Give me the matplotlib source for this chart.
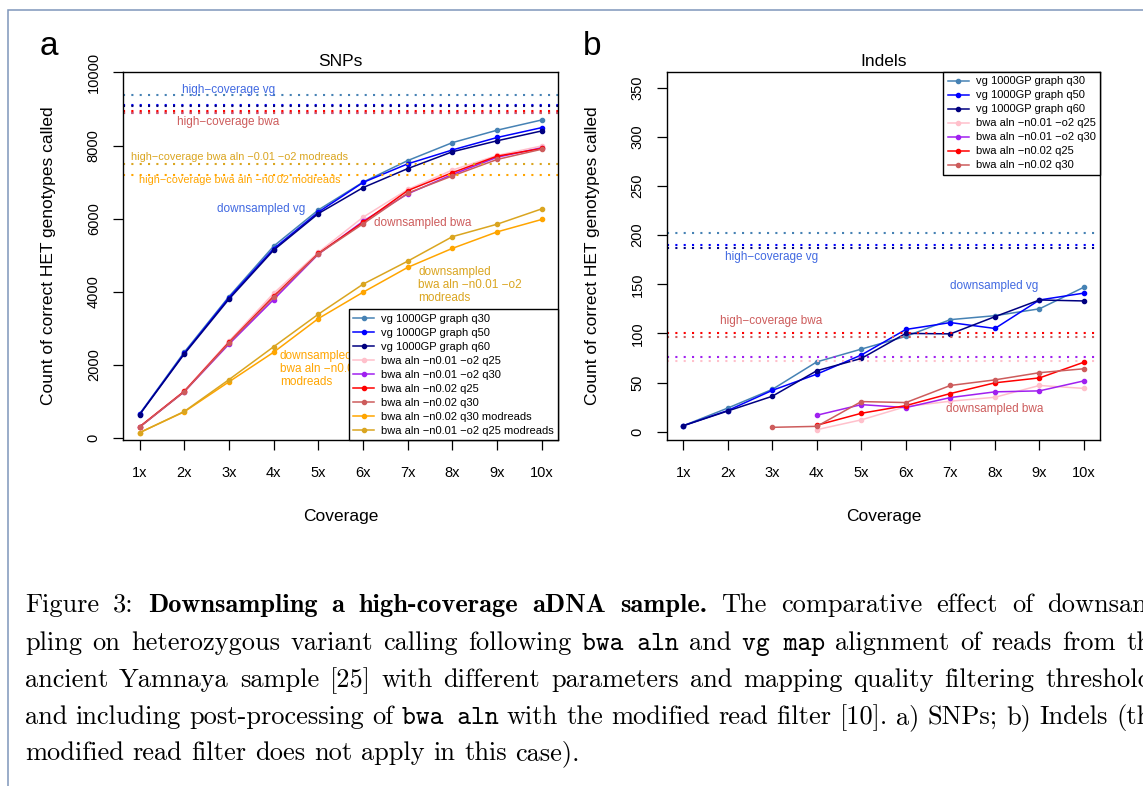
import numpy as np
import matplotlib.pyplot as plt
from matplotlib.patches import Rectangle

W, H = 1143, 786

coverage = np.arange(1, 11)
coverage_labels = ['1x', '2x', '3x', '4x', '5x', '6x', '7x', '8x', '9x', '10x']

# SNPs, downsampled
snp_vg_q30 = [660, 2350, 3870, 5250, 6240, 7000, 7590, 8080, 8420, 8700]
snp_vg_q50 = [650, 2320, 3840, 5180, 6180, 6990, 7500, 7880, 8220, 8490]
snp_vg_q60 = [640, 2300, 3800, 5140, 6140, 6850, 7370, 7830, 8130, 8400]
snp_o2_q25 = [310, 1290, 2650, 3960, 5080, 6040, 6800, 7330, 7730, 7990]
snp_o2_q30 = [300, 1270, 2570, 3790, 5030, 5930, 6680, 7210, 7680, 7940]
snp_n02_q25 = [310, 1280, 2620, 3880, 5050, 5900, 6770, 7260, 7710, 7920]
snp_n02_q30 = [300, 1270, 2600, 3850, 5040, 5860, 6700, 7170, 7620, 7900]
snp_mod_n02_q30 = [150, 720, 1540, 2350, 3270, 3990, 4670, 5190, 5640, 5980]
snp_mod_o2_q25 = [150, 730, 1600, 2500, 3390, 4210, 4840, 5510, 5850, 6270]
# SNPs, high coverage (same order as series)
snp_high = [9380, 9120, 9070, 8930, 8880, 8950, 8900, 7200, 7490]

# Indels, downsampled
nan = np.nan
ind_vg_q30 = [6, 24, 43, 71, 84, 97, 114, 118, 125, 147]
ind_vg_q50 = [6, 21.5, 42, 58.5, 78, 104, 111, 105, 134, 141]
ind_vg_q60 = [6, 21, 36, 62, 74.5, 100, 99.5, 117, 134, 133]
ind_o2_q25 = [nan, nan, nan, 2, 12, 25.5, 31, 35, 47, 44]
ind_o2_q30 = [nan, nan, nan, 16.7, 27.5, 24.5, 34.7, 40.5, 41.5, 51.7]
ind_n02_q25 = [nan, nan, nan, 6.5, 18.7, 26.5, 38.8, 49.7, 54.7, 70.7]
ind_n02_q30 = [nan, nan, 4.4, 5.4, 30.6, 29.6, 47, 52.7, 60, 64]
# Indels, high coverage
ind_high = [202, 190, 187, 72, 76, 100, 96]

M = '\u2212'
snp_labels = ['vg 1000GP graph q30', 'vg 1000GP graph q50', 'vg 1000GP graph q60',
              'bwa aln %sn0.01 %so2 q25' % (M, M), 'bwa aln %sn0.01 %so2 q30' % (M, M),
              'bwa aln %sn0.02 q25' % M, 'bwa aln %sn0.02 q30' % M,
              'bwa aln %sn0.02 q30 modreads' % M, 'bwa aln %sn0.01 %so2 q25 modreads' % (M, M)]
snp_colors = ['steelblue', 'blue', 'navy', 'pink', '#A020F0', 'red', 'indianred', 'orange', 'goldenrod']

plt.rcParams['font.family'] = ['Liberation Sans', 'DejaVu Sans']

fig = plt.figure(figsize=(W / 100, H / 100), dpi=100)
ax1 = fig.add_axes([0.1076, 0.4402, 0.3806, 0.4682])
ax2 = fig.add_axes([0.5833, 0.4402, 0.3791, 0.4682])

dotted = (0, (1, 3))
leg_kw = dict(borderaxespad=0, fancybox=False, edgecolor='black', framealpha=1, fontsize=8,
              labelspacing=0.36, handlelength=1.9, handletextpad=0.6, borderpad=0.4, numpoints=1)

# --- a) SNPs
snp_series = [snp_vg_q30, snp_vg_q50, snp_vg_q60, snp_o2_q25, snp_o2_q30,
              snp_n02_q25, snp_n02_q30, snp_mod_n02_q30, snp_mod_o2_q25]
for vals, hc, col, lab in zip(snp_series, snp_high, snp_colors, snp_labels):
    ax1.axhline(hc, color=col, lw=1.5, ls=dotted)
    ax1.plot(coverage, vals, color=col, lw=1.1, marker='o', ms=3, label=lab)

ax1.text(2.99, 9530, 'high%scoverage vg' % M, color='royalblue', fontsize=8.5, ha='center', va='center')
ax1.text(2.99, 8650, 'high%scoverage bwa' % M, color='indianred', fontsize=8.5, ha='center', va='center')
ax1.text(3.24, 7675, 'high%scoverage bwa aln %s0.01 %so2 modreads' % (M, M, M), color='goldenrod',
         fontsize=7.8, ha='center', va='center')
ax1.text(3.24, 7065, 'high%scoverage bwa aln %sn0.02 modreads' % (M, M), color='orange',
         fontsize=7.8, ha='center', va='center')
ax1.text(3.73, 6270, 'downsampled vg', color='royalblue', fontsize=8.5, ha='center', va='center')
ax1.text(7.34, 5890, 'downsampled bwa', color='indianred', fontsize=8.5, ha='center', va='center')
ax1.text(7.23, 4190, 'downsampled\nbwa aln %sn0.01 %so2\nmodreads' % (M, M), color='goldenrod',
         fontsize=8.5, ha='left', va='center', linespacing=1.1)
ax1.text(4.14, 1895, 'downsampled\nbwa aln %sn0.02\nmodreads' % M, color='orange',
         fontsize=8.5, ha='left', va='center', linespacing=1.1)

ax1.set_ylim(-50, 10010)
ax1.set_yticks(np.arange(0, 10001, 2000))
ax1.set_title('SNPs', fontsize=12.5, pad=4)
ax1.set_ylabel('Count of correct HET genotypes called', fontsize=12.5)
leg1 = ax1.legend(loc='lower right', **leg_kw)
leg1.get_frame().set_linewidth(1.0)

# --- b) Indels
ind_series = [ind_vg_q30, ind_vg_q50, ind_vg_q60, ind_o2_q25, ind_o2_q30, ind_n02_q25, ind_n02_q30]
for vals, hc, col, lab in zip(ind_series, ind_high, snp_colors[:7], snp_labels[:7]):
    ax2.axhline(hc, color=col, lw=1.5, ls=dotted)
    ax2.plot(coverage, vals, color=col, lw=1.1, marker='o', ms=3, label=lab)

ax2.text(2.98, 178, 'high%scoverage vg' % M, color='royalblue', fontsize=8.5, ha='center', va='center')
ax2.text(7.99, 148.7, 'downsampled vg', color='royalblue', fontsize=8.5, ha='center', va='center')
ax2.text(2.98, 112.7, 'high%scoverage bwa' % M, color='indianred', fontsize=8.5, ha='center', va='center')
ax2.text(7.99, 22.8, 'downsampled bwa', color='indianred', fontsize=8.5, ha='center', va='center')

ax2.set_ylim(-8.5, 366)
ax2.set_yticks(np.arange(0, 351, 50))
ax2.set_title('Indels', fontsize=12.5, pad=4)
ax2.set_ylabel('Count of correct HET genotypes called', fontsize=12.5)
leg2 = ax2.legend(loc='upper right', **leg_kw)
leg2.get_frame().set_linewidth(1.0)

for ax in (ax1, ax2):
    ax.set_xlim(0.63, 10.36)
    ax.set_xticks(coverage)
    ax.set_xticklabels(coverage_labels)
    ax.set_xlabel('Coverage', fontsize=12.5)
    ax.xaxis.set_label_coords(0.5, -0.1875)
    ax.yaxis.set_label_coords(-0.154, 0.5)
    ax.tick_params(axis='x', length=7, width=0.9, pad=12, labelsize=10.5)
    ax.tick_params(axis='y', length=7, width=0.9, pad=9, labelsize=10.5, labelrotation=90)
    for lbl in ax.get_yticklabels():
        lbl.set_va('center')
    for sp in ax.spines.values():
        sp.set_linewidth(1.0)

fig.text(40 / W, 1 - 55 / H, 'a', fontsize=24, va='baseline')
fig.text(583 / W, 1 - 55 / H, 'b', fontsize=24, va='baseline')

# page frame
fig.add_artist(Rectangle((8 / W, -0.5), 2, 1.5 - 10 / H, transform=fig.transFigure,
                         fill=False, edgecolor='#7f96bb', lw=1.1))

# caption, set word by word in Computer Modern, justified like the page
renderer = fig.canvas.get_renderer()
fams = {'r': 'cmr10', 'b': 'cmb10', 't': 'cmtt10'}
cap_size = 19
cap_left, cap_right = 25, 1163


def text_width(s, fam):
    t = fig.text(0, 0, s, fontfamily=fam, fontsize=cap_size)
    w = t.get_window_extent(renderer).width
    t.remove()
    return w


space = text_width('a a', 'cmr10') - text_width('aa', 'cmr10')

caption = [
    (612, True, [('Figure 3:', 'r'), ('Downsampling a high-coverage aDNA sample.', 'b'),
                 ('The comparative effect of downsam-', 'r')]),
    (650, True, [('pling on heterozygous variant calling following', 'r'), ('bwa aln', 't'), ('and', 'r'),
                 ('vg map', 't'), ('alignment of reads from the', 'r')]),
    (687, True, [('ancient Yamnaya sample [25] with different parameters and mapping quality filtering thresholds', 'r')]),
    (724, True, [('and including post-processing of', 'r'), ('bwa aln', 't'),
                 ('with the modified read filter [10]. a) SNPs; b) Indels (the', 'r')]),
    (760, False, [('modified read filter does not apply in this case).', 'r')]),
]
for y, justify, parts in caption:
    units = []
    for s, kind in parts:
        if kind == 't':
            units.append((s, kind))
        else:
            units.extend((w, kind) for w in s.split(' '))
    texts = [fig.text(0, 1 - y / H, s, fontfamily=fams[k], fontsize=cap_size, va='baseline', ha='left')
             for s, k in units]
    widths = [t.get_window_extent(renderer).width for t in texts]
    gap = (cap_right - cap_left - sum(widths)) / (len(units) - 1) if justify else space
    x = cap_left
    for t, w in zip(texts, widths):
        t.set_x(x / W)
        x += w + gap

fig.savefig('out.png', dpi=100)
